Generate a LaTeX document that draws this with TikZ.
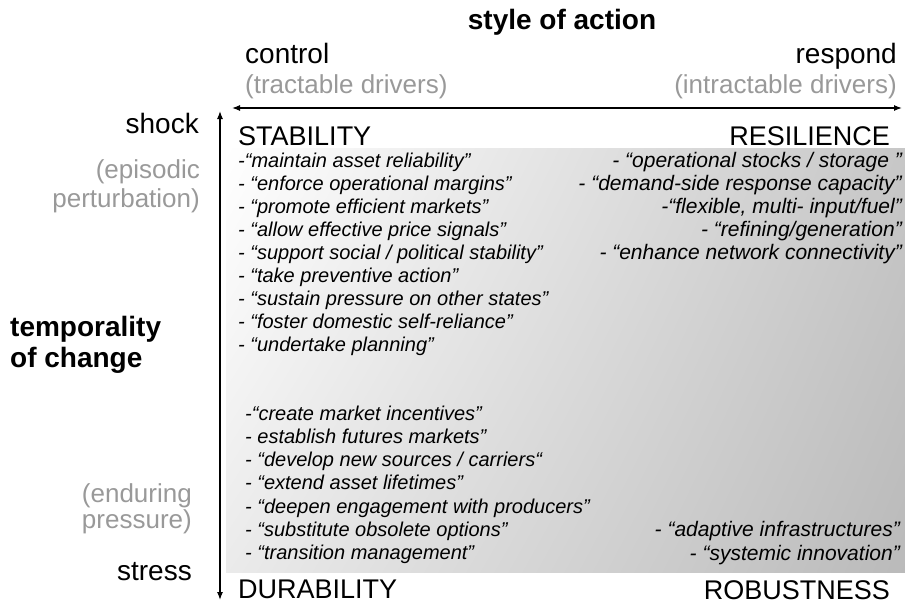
\documentclass[tikz,border=0pt]{standalone}
\usepackage{fontspec}
\setmainfont{Liberation Sans}
\usetikzlibrary{arrows.meta,shadings}
\tikzset{
  axislbl/.style={font=\fontsize{28}{30}\selectfont, inner sep=0pt},
  sublbl/.style={font=\fontsize{26}{30}\selectfont, text=black!40, inner sep=0pt},
  quadlbl/.style={font=\fontsize{27}{30}\selectfont, inner sep=0pt},
  titlelbl/.style={font=\fontsize{28}{31}\selectfont\bfseries, inner sep=0pt},
  item/.style={font=\fontsize{20}{22}\selectfont\itshape, inner sep=0pt},
  ritem/.style={font=\fontsize{21}{22}\selectfont\itshape, inner sep=0pt},
  axis/.style={line width=1.2pt, {Latex[length=8pt,width=6pt]}-{Latex[length=8pt,width=6pt]}}
}
\begin{document}
\begin{tikzpicture}[x=1pt,y=-1pt]
\useasboundingbox (0,0) rectangle (905,608);
\shade[upper left=white, upper right=black!22, lower left=black!8, lower right=black!27] (226,148) rectangle (905,572);
%Background

\node[titlelbl, anchor=base] (styleact) at (562,29) {style of action};
\node[axislbl, anchor=base west] (control) at (245,63) {control};
\node[sublbl, anchor=base west] (tract) at (245,93) {(tractable drivers)};
\node[axislbl, anchor=base east] (respond) at (897,63) {respond};
\node[sublbl, anchor=base east] (intract) at (897,93) {(intractable drivers)};
\coordinate (hl) at (232,108);
\coordinate (hr) at (902,108);
\draw[axis] (hl) -- (hr);
%Axis style of action

\node[axislbl, anchor=base east] (shock) at (199,133) {shock};
\node[sublbl, anchor=base east] (episod) at (200,178) {(episodic};
\node[sublbl, anchor=base east] (perturb) at (200,207) {perturbation)};
\node[titlelbl, anchor=base west] (tempo) at (10,336) {temporality};
\node[titlelbl, anchor=base west] (ofchange) at (10,367) {of change};
\node[sublbl, anchor=base east] (endur) at (192,502) {(enduring};
\node[sublbl, anchor=base east] (pressure) at (192,528) {pressure)};
\node[axislbl, anchor=base east] (stress) at (192,580) {stress};
\coordinate (vt) at (220,111);
\coordinate (vb) at (220,600);
\draw[axis] (vt) -- (vb);
%Axis temporality of change

\node[quadlbl, anchor=base west] (stability) at (238,145) {STABILITY};
\node[quadlbl, anchor=base east] (resilience) at (890,145) {RESILIENCE};
\node[quadlbl, anchor=base west] (durability) at (238,598) {DURABILITY};
\node[quadlbl, anchor=base east] (robustness) at (890,599) {ROBUSTNESS};
%Quadrants

\foreach \t [count=\i] in {-“maintain asset reliability”, - “enforce operational margins”, - “promote efficient markets”, - “allow effective price signals”, - “support social / political stability”, - “take preventive action”, - “sustain pressure on other states”, - “foster domestic self-reliance”, - “undertake planning”}
  \node[item, anchor=base west] (stab\i) at (238,144+23*\i) {\t};
%Group stability

\foreach \t [count=\i] in {- “operational stocks / storage ”, - “demand-side response capacity”, -“flexible{,} multi- input/fuel”, - “refining/generation”, - “enhance network connectivity”}
  \node[ritem, anchor=base east] (resil\i) at (902,144+23*\i) {\t};
%Group resilience

\foreach \t [count=\i] in {-“create market incentives”, - establish futures markets”, - “develop new sources / carriers“, - “extend asset lifetimes”, - “deepen engagement with producers”, - “substitute obsolete options”, - “transition management”}
  \node[item, anchor=base west] (durab\i) at (245,396.7+23.3*\i) {\t};
%Group durability

\node[ritem, anchor=base east] (robust1) at (900,536.5) {- “adaptive infrastructures”};
\node[ritem, anchor=base east] (robust2) at (900,560) {- “systemic innovation”};
%Group robustness
\end{tikzpicture}
\end{document}
